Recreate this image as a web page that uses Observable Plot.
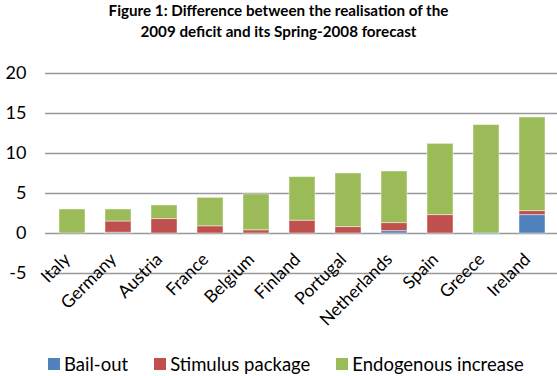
<!DOCTYPE html>
<html>
<head>
<meta charset="utf-8">
<script src="https://cdn.jsdelivr.net/npm/d3@7"></script>
<script src="https://cdn.jsdelivr.net/npm/@observablehq/plot@0.6"></script>
<style>
  html, body { margin: 0; padding: 0; background: #fff; }
  body { width: 557px; height: 376px; overflow: hidden; font-family: Lato, "Noto Sans", sans-serif; color: #000; }
  #title { height: 55px; padding-top: 0px; box-sizing: border-box; text-align: center; font-weight: bold; font-size: 15.2px; line-height: 21px; }
  #chart svg { display: block; }
  #legend { display: flex; padding-left: 48px; padding-top: 11px; column-gap: 26px; font-size: 18.5px; line-height: 16px; }
  .item { display: flex; align-items: center; gap: 4px; white-space: nowrap; }
  .sw { width: 12px; height: 12px; display: inline-block; }
</style>
</head>
<body>
<div id="title">Figure 1: Difference between the realisation of the<br>2009 deficit and its Spring-2008 forecast</div>
<div id="chart"></div>
<div id="legend"></div>
<script>
// Change in the 2009 deficit versus the Spring-2008 forecast, % of GDP, by component
const countries = ["Italy", "Germany", "Austria", "France", "Belgium", "Finland", "Portugal", "Netherlands", "Spain", "Greece", "Ireland"];
const bailout = [0, 0.1, 0, 0, 0, 0, 0, 0.3, 0, -0.15, 2.3];
const stimulus = [0, 1.4, 1.8, 0.9, 0.4, 1.6, 0.8, 1.0, 2.3, 0, 0.5];
const endogenous = [3.0, 1.5, 1.7, 3.55, 4.5, 5.45, 6.7, 6.45, 8.9, 13.55, 11.7];
const seriesNames = ["Bail-out", "Stimulus package", "Endogenous increase"];
const seriesColors = ["#4F81BD", "#C0504D", "#9BBB59"];
const yTicks = [-5, 0, 5, 10, 15, 20];

// long table, one row per country and component (stacking order: bail-out, stimulus, endogenous)
const columns = [bailout, stimulus, endogenous];
const rows = [];
seriesNames.forEach((s, j) => {
  countries.forEach((c, i) => {
    if (columns[j][i] !== 0) rows.push({country: c, series: s, value: columns[j][i]});
  });
});

const chart = Plot.plot({
  width: 557,
  height: 290,
  marginTop: 18,
  marginBottom: 72,
  marginLeft: 45,
  marginRight: 0,
  style: {fontFamily: "Lato, 'Noto Sans', sans-serif", color: "#000", background: "#fff"},
  x: {domain: countries, range: [45, 559], paddingInner: 0.43, paddingOuter: 0.215, axis: null},
  y: {domain: [-5, 20], axis: null},
  color: {domain: seriesNames, range: seriesColors},
  marks: [
    Plot.gridY(yTicks, {stroke: "#999", strokeOpacity: 1, strokeWidth: 1.5}),
    Plot.barY(rows, Plot.stackY({x: "country", y: "value", fill: "series", stroke: "#fff", strokeOpacity: 0.45, strokeWidth: 1})),
    Plot.axisY(yTicks, {tickSize: 0, tickPadding: 19, fontSize: 18, label: null, tickFormat: d => String(d)}),
    Plot.text(countries, {x: d => d, frameAnchor: "bottom", rotate: -45, textAnchor: "end", lineAnchor: "middle", dx: -5, dy: -17, fontSize: 17.5})
  ]
});
document.getElementById("chart").appendChild(chart);

// legend below the plot
const legend = document.getElementById("legend");
seriesNames.forEach((s, j) => {
  const item = document.createElement("span");
  item.className = "item";
  const sw = document.createElement("span");
  sw.className = "sw";
  sw.style.background = seriesColors[j];
  item.appendChild(sw);
  item.appendChild(document.createTextNode(s));
  legend.appendChild(item);
});
</script>
</body>
</html>
